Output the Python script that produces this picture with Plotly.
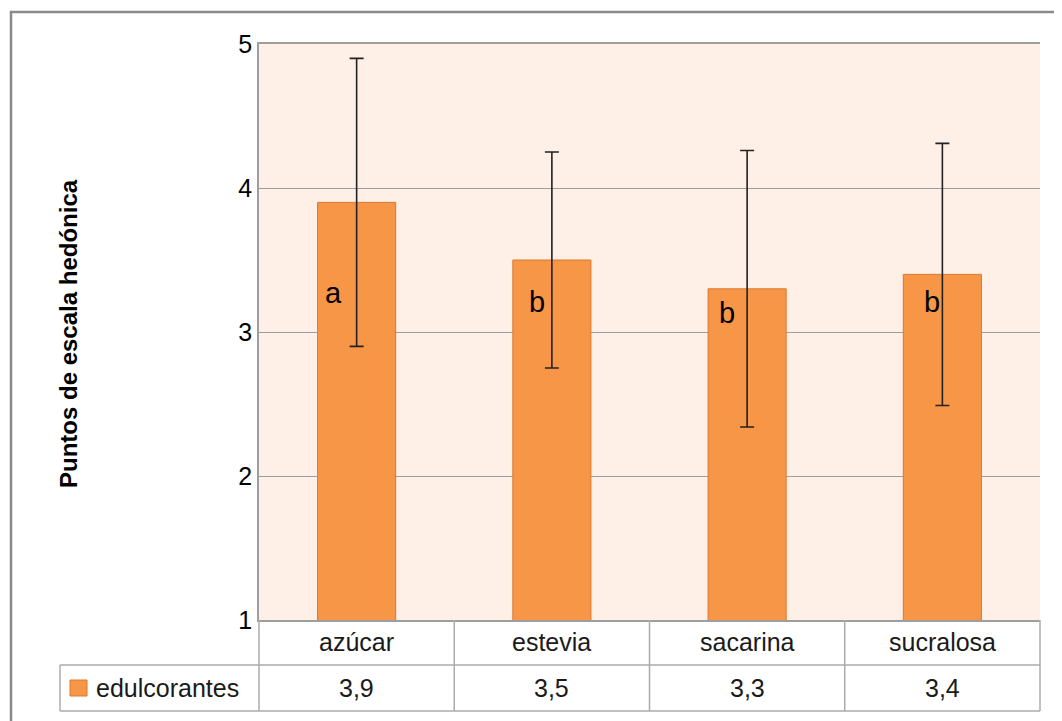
import plotly.graph_objects as go

categories = ["azúcar", "estevia", "sacarina", "sucralosa"]
values = [3.9, 3.5, 3.3, 3.4]
errors = [1.0, 0.75, 0.96, 0.91]
letters = ["a", "b", "b", "b"]
letter_y = [3.27, 3.21, 3.13, 3.21]
letter_dx = [-23, -15, -20, -10]
series_name = "edulcorantes"
y_ticks = [1, 2, 3, 4, 5]

OFF = 8  # default page body margin
W, H = 1062 - OFF, 721 - OFF
L, R, T, B = 259, 1040, 44, 620  # reference page pixels
PW, PH = R - L, B - T


def px(x):
    return (x - L) / PW


def py(y):
    return (B - y) / PH


FONT = "Liberation Sans"
TXT = "#1a1a1a"
GRID = "#9e9e9e"
TABLE_LINE = "#ababab"
ORANGE = "#f79646"
ORANGE_EDGE = "#d9782f"

fig = go.Figure()
fig.add_trace(go.Bar(
    x=categories, y=values, width=0.4,
    marker=dict(color=ORANGE, line=dict(color=ORANGE_EDGE, width=1)),
    error_y=dict(type="data", array=errors, visible=True, color="#222222",
                 thickness=1.6, width=7),
    name=series_name, showlegend=False,
))

shapes = []
# outer frame
shapes.append(dict(type="rect", xref="paper", yref="paper",
                   x0=px(11), x1=px(1090), y0=py(12), y1=py(750),
                   line=dict(color="#8a8a8a", width=2.5), layer="below"))


def hline(y, x0, x1):
    shapes.append(dict(type="line", xref="paper", yref="paper",
                       x0=px(x0), x1=px(x1), y0=py(y), y1=py(y),
                       line=dict(color=TABLE_LINE, width=1.5)))


def vline_paper(x, y0, y1):
    shapes.append(dict(type="line", xref="paper", yref="paper",
                       x0=px(x), x1=px(x), y0=py(y0), y1=py(y1),
                       line=dict(color=TABLE_LINE, width=1.5)))


hline(665, 60, R)
hline(711, 60, R)
vline_paper(60, 665, 711)
vline_paper(L, B, 711)
vline_paper(R, B, 711)
for i in range(len(categories) - 1):
    shapes.append(dict(type="line", xref="x", yref="paper",
                       x0=i + 0.5, x1=i + 0.5, y0=py(B), y1=py(711),
                       line=dict(color=TABLE_LINE, width=1.5)))
# legend key
shapes.append(dict(type="rect", xref="paper", yref="paper",
                   x0=px(70), x1=px(87), y0=py(680), y1=py(696),
                   fillcolor=ORANGE, line=dict(color=ORANGE_EDGE, width=1)))

annotations = []
for c, v in zip(categories, values):
    annotations.append(dict(x=c, xref="x", y=py(642), yref="paper", text=c,
                            showarrow=False, yanchor="middle",
                            font=dict(family=FONT, size=25, color=TXT)))
    annotations.append(dict(x=c, xref="x", y=py(688), yref="paper",
                            text=f"{v:.1f}".replace(".", ","),
                            showarrow=False, yanchor="middle",
                            font=dict(family=FONT, size=25, color=TXT)))
for c, lt, ly, dx in zip(categories, letters, letter_y, letter_dx):
    annotations.append(dict(x=c, xref="x", y=ly, yref="y", text=lt,
                            showarrow=False, xshift=dx,
                            font=dict(family=FONT, size=29, color="#000000")))
annotations.append(dict(x=px(94), xref="paper", y=py(688), yref="paper",
                        text=series_name, showarrow=False,
                        xanchor="left", yanchor="middle",
                        font=dict(family=FONT, size=25, color=TXT)))
annotations.append(dict(x=px(68), xref="paper", y=py(334), yref="paper",
                        text="<b>Puntos de escala hedónica</b>", textangle=-90,
                        showarrow=False, xanchor="center", yanchor="middle",
                        font=dict(family=FONT, size=24, color="#000000")))

fig.update_layout(
    width=W, height=H,
    margin=dict(l=L - OFF, r=W - (R - OFF), t=T - OFF, b=H - (B - OFF)),
    paper_bgcolor="white", plot_bgcolor="#feefe7",
    font=dict(family=FONT, color=TXT),
    shapes=shapes, annotations=annotations,
    bargap=0.6,
    xaxis=dict(showticklabels=False, ticks="", showgrid=False,
               showline=True, mirror=True, linecolor=GRID, linewidth=1.5,
               range=[-0.5, len(categories) - 0.5]),
    yaxis=dict(range=[1, 5], tickvals=y_ticks, showgrid=True,
               gridcolor=GRID, gridwidth=1.2, showline=True,
               linecolor=GRID, linewidth=1.5, zeroline=False, ticks="",
               ticklen=0, tickfont=dict(family=FONT, size=25, color="#000000")),
)

fig.write_html("out.html")
